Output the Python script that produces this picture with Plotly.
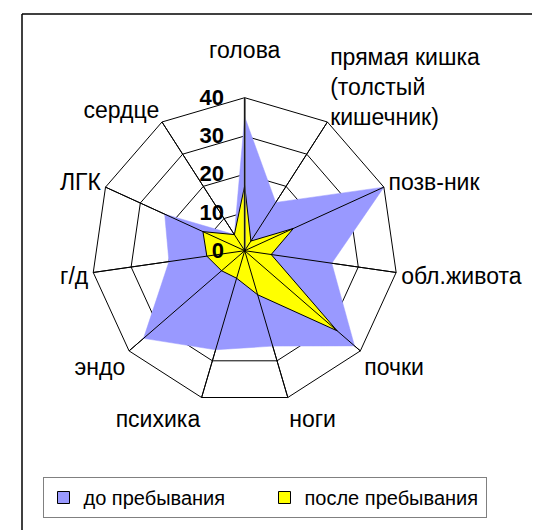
import plotly.graph_objects as go

categories = ["голова", "прямая кишка (толстый кишечник)", "позв-ник", "обл.живота",
              "почки", "ноги", "психика", "эндо", "г/д", "ЛГК", "сердце"]
category_labels = ["голова<br> ", "&#160;<br>прямая кишка<br>(толстый<br>кишечник)", "позв-ник",
                   "обл.живота", "почки", "ноги", "психика", "эндо", "г/д", "ЛГК", "сердце"]
before_stay = [35, 15, 40, 23, 38, 26, 27, 35, 20, 23, 5]
after_stay = [17, 3, 14, 7, 32, 12, 7.5, 8, 10, 12, 5]
series_names = ["до пребывания", "после пребывания"]
series_colors = ["#9999FF", "#FFFF00"]
radial_ticks = [0, 10, 20, 30, 40]

FONT = "Liberation Sans, Arial, sans-serif"
W, H = 540, 530
cx, cy, R = 236.7, 242.7, 153

dom_x = [(cx - R) / W, (cx + R) / W]
dom_y = [1 - (cy + R) / H, 1 - (cy - R) / H]

fig = go.Figure()
fig.add_trace(go.Scatterpolar(
    r=before_stay + before_stay[:1], theta=categories + categories[:1],
    name=series_names[0], mode="lines", fill="toself",
    fillcolor=series_colors[0], line=dict(color=series_colors[0], width=0.5),
    showlegend=False, subplot="polar"))
fig.add_trace(go.Scatterpolar(
    r=after_stay + after_stay[:1], theta=categories + categories[:1],
    name=series_names[1], mode="lines", fill="toself",
    fillcolor=series_colors[1], line=dict(color="#000000", width=1),
    showlegend=False, subplot="polar"))
# legend-only entries with square swatches
for name, color in zip(series_names, series_colors):
    fig.add_trace(go.Scatterpolar(
        r=[None], theta=[None], name=name, mode="markers",
        marker=dict(symbol="square", size=12, color=color,
                    line=dict(color="#000000", width=1)),
        subplot="polar"))
# overlay subplot only to draw the spokes above the filled areas
fig.add_trace(go.Scatterpolar(
    r=[0] * len(categories), theta=categories, mode="markers",
    marker=dict(size=5, color="#000000"), showlegend=False, hoverinfo="skip",
    subplot="polar2"))

common_ang = dict(direction="clockwise", rotation=90, categoryorder="array",
                  categoryarray=categories)

fig.update_layout(
    width=W, height=H, margin=dict(l=0, r=0, t=0, b=0),
    paper_bgcolor="white", plot_bgcolor="white",
    font=dict(family=FONT, color="#000000"),
    polar=dict(
        domain=dict(x=dom_x, y=dom_y), bgcolor="white", gridshape="linear",
        angularaxis=dict(**common_ang, showline=True, linecolor="#000000", linewidth=1,
                         gridcolor="#000000", gridwidth=1, ticks="",
                         tickmode="array", tickvals=categories, ticktext=category_labels,
                         tickfont=dict(size=23, family=FONT, color="#000000")),
        radialaxis=dict(range=[0, 40], tickvals=radial_ticks, angle=90, tickangle=90,
                        side="counterclockwise", showline=True, linecolor="#808080",
                        linewidth=2, gridcolor="#000000", gridwidth=1,
                        ticks="outside", ticklen=12, tickcolor="rgba(0,0,0,0)",
                        tickfont=dict(size=22, family=FONT, color="#000000", weight="bold")),
    ),
    polar2=dict(
        domain=dict(x=dom_x, y=dom_y), bgcolor="rgba(0,0,0,0)", gridshape="linear",
        angularaxis=dict(**common_ang, showline=False, gridcolor="#000000", gridwidth=1,
                         ticks="", showticklabels=False),
        radialaxis=dict(range=[0, 40], visible=False, showgrid=False),
    ),
    legend=dict(orientation="h", x=0.475, xanchor="center", y=1 - 469 / H, yanchor="top",
                bordercolor="#808080", borderwidth=1, bgcolor="white",
                font=dict(size=20, family=FONT, color="#000000"),
                entrywidth=176, itemwidth=30),
    shapes=[
        dict(type="line", xref="paper", yref="paper", x0=14 / W, x1=14 / W, y0=-0.05,
             y1=1 - 6 / H, line=dict(color="#000000", width=1.5)),
        dict(type="line", xref="paper", yref="paper", x0=14 / W, x1=1.05, y0=1 - 6 / H,
             y1=1 - 6 / H, line=dict(color="#000000", width=1.5)),
    ],
)

fig.write_html("out.html")
